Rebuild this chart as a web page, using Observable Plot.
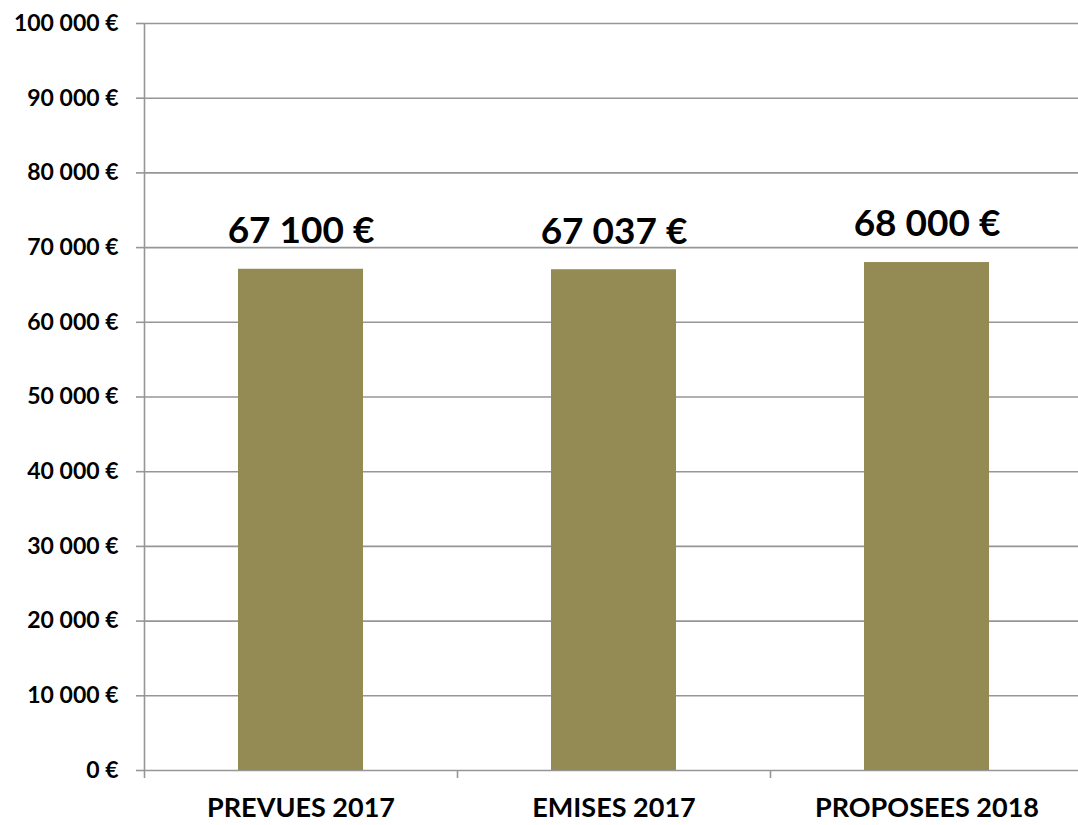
<!DOCTYPE html>
<html>
<head>
<meta charset="utf-8">
<script src="https://cdn.jsdelivr.net/npm/d3@7"></script>
<script src="https://cdn.jsdelivr.net/npm/@observablehq/plot@0.6"></script>
<style>
  html, body { margin: 0; padding: 0; background: #fff; }
  #chart svg { display: block; }
</style>
</head>
<body>
<div id="chart"></div>
<script>
const categories = ["PREVUES 2017", "EMISES 2017", "PROPOSEES 2018"];
const values = [67100, 67037, 68000];
const yTicks = [0, 10000, 20000, 30000, 40000, 50000, 60000, 70000, 80000, 90000, 100000];

const data = categories.map((c, i) => ({cat: c, value: values[i]}));
const locale = d3.formatLocale({decimal: ",", thousands: "\u00a0", grouping: [3], currency: ["", " €"]});
const fmt = v => locale.format(",.0f")(v) + " €";

const W = 1078, H = 825, mL = 144, mR = -5, mT = 23, mB = 55;
const halfStep = (W - mR - mL) / categories.length / 2;
const gray = "#969696";
const font = "Lato, 'Open Sans', sans-serif";

const chart = Plot.plot({
  width: W,
  height: H,
  marginLeft: mL,
  marginRight: mR,
  marginTop: mT,
  marginBottom: mB,
  style: {fontFamily: font, background: "#fff", overflow: "hidden"},
  x: {domain: categories, paddingInner: 0.6, paddingOuter: 0.3, label: null},
  y: {domain: [0, 100000], label: null},
  marks: [
    Plot.ruleY(yTicks, {stroke: gray, strokeWidth: 1.6, strokeOpacity: 1}),
    Plot.axisY({ticks: yTicks, tickSize: 8, tickPadding: 18, stroke: gray, strokeWidth: 1.6, strokeOpacity: 1,
      tickFormat: fmt, fontSize: 23, fontWeight: "bold", fill: "#000", label: null}),
    Plot.ruleX(categories.slice(0, 1), {x: d => d, dx: -halfStep, y1: 0, y2: 100000, stroke: gray, strokeWidth: 1.6}),
    Plot.axisX({ticks: categories, dx: -halfStep, tickSize: 8, text: null, stroke: gray, strokeWidth: 1.6, strokeOpacity: 1, label: null}),
    Plot.axisX({ticks: categories, tickSize: 0, tickPadding: 27, fontSize: 27, fontWeight: "bold", fill: "#000", label: null}),
    Plot.barY(data, {x: "cat", y: "value", fill: "#948A54"}),
    Plot.text(data, {x: "cat", y: "value", text: d => fmt(d.value), dy: -38, fontSize: 37, fontWeight: "bold", fill: "#000"})
  ]
});
document.getElementById("chart").appendChild(chart);
</script>
</body>
</html>
